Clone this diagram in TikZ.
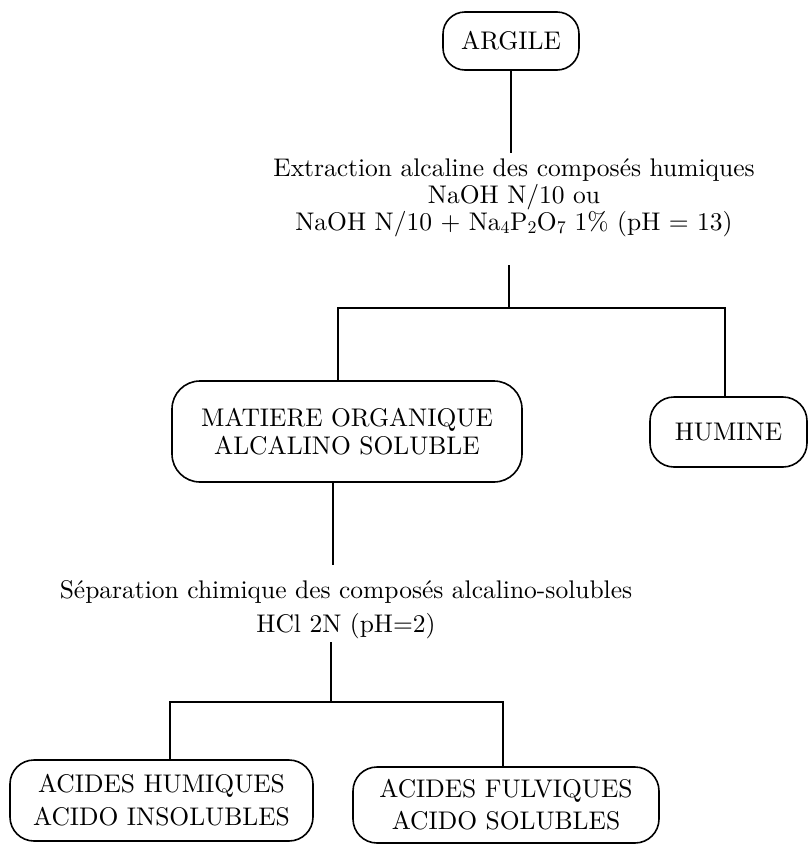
\documentclass[tikz,border=0pt]{standalone}
\usepackage{fontspec}
\setmainfont{lmroman10-regular.otf}
\newcommand\diagfont{\fontsize{25.5}{27}\selectfont}
\newcommand\sepfont{\fontsize{25.5}{34}\selectfont}
\newcommand\boxfontA{\fontsize{25.5}{28}\selectfont}
\newcommand\boxfontB{\fontsize{25.5}{33}\selectfont}
\newcommand\boxfontC{\fontsize{25.5}{32}\selectfont}
\begin{document}
\begin{tikzpicture}[x=1pt,y=-1pt,line width=1.6pt,
  rbox/.style={draw, rounded corners=24pt, align=center, inner sep=0pt, font=\boxfontA},
  lbl/.style={align=center, inner sep=0pt, font=\diagfont}]
\useasboundingbox (0,0) rectangle (810,844);
% nodes
\node[rbox, rounded corners=22pt, minimum width=136pt, minimum height=58pt] (argile) at (511,41) {ARGILE};
\node[lbl] (extr) at (514,197.3) {Extraction alcaline des compos\'es humiques\\
  NaOH N/10 ou\\
  NaOH N/10 + Na\textsubscript{4}P\textsubscript{2}O\textsubscript{7} 1\% (pH = 13)};
\node[rbox, rounded corners=28pt, minimum width=350pt, minimum height=101pt] (matiere) at (347,431.5) {MATIERE ORGANIQUE\\ALCALINO SOLUBLE};
\node[rbox, minimum width=157pt, minimum height=70pt] (humine) at (728.5,432) {HUMINE};
\node[lbl, font=\sepfont] (separ) at (346,609.3) {S\'eparation chimique des compos\'es alcalino-solubles\\HCl 2N (pH=2)};
\node[rbox, font=\boxfontB, minimum width=303pt, minimum height=81pt] (acidh) at (161.5,800.5) {ACIDES HUMIQUES\\ACIDO INSOLUBLES};
\node[rbox, font=\boxfontC, minimum width=306pt, minimum height=76pt] (acidf) at (506,805) {ACIDES FULVIQUES\\ACIDO SOLUBLES};
% coordinates
\coordinate (t1) at (511,153);
\coordinate (t2) at (509,265);
\coordinate (s1) at (509,308);
\coordinate (l1) at (338,308);
\coordinate (r1) at (725,308);
\coordinate (t3) at (333,565);
\coordinate (t4) at (331,642);
\coordinate (s2) at (331,702);
\coordinate (l2) at (170,702);
\coordinate (r2) at (503,702);
% connectors
\draw (argile.south) -- (t1);
\draw (t2) -- (s1);
\draw (matiere.north -| l1) -- (l1) -- (r1) -- (humine.north -| r1);
\draw (matiere.south -| t3) -- (t3);
\draw (t4) -- (s2);
\draw (acidh.north -| l2) -- (l2) -- (r2) -- (acidf.north -| r2);
\end{tikzpicture}
\end{document}
